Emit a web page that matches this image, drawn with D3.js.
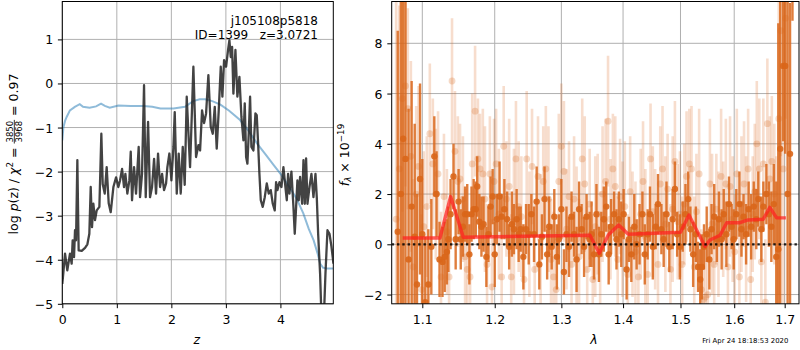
<!DOCTYPE html>
<html><head><meta charset="utf-8">
<script src="https://cdn.jsdelivr.net/npm/d3@7"></script>
<style>
body{margin:0;background:#fff}
svg{display:block;font-family:"DejaVu Sans",sans-serif}
</style></head><body>
<svg id="c" width="800" height="350"></svg>
<script>
// ---------------- data: left panel ----------------
const pzZ = [0.00,0.019,0.050,0.092,0.141,0.172,0.190,0.215,0.233,0.252,0.276,0.300,0.356,0.417,0.460,0.496,0.521,0.545,0.570,0.600,
0.631,0.680,0.716,0.741,0.778,0.814,0.851,0.888,0.937,0.986,1.028,1.059,1.096,1.132,1.157,1.193,1.230,1.255,1.279,1.316,
1.352,1.401,1.426,1.462,1.499,1.530,1.573,1.609,1.646,1.683,1.719,1.756,1.793,1.830,1.866,1.903,1.927,1.964,2.001,2.038,
2.062,2.099,2.135,2.172,2.209,2.245,2.282,2.319,2.343,2.380,2.404,2.453,2.496,2.527,2.563,2.600,2.637,2.679,2.722,2.759,
2.796,2.832,2.869,2.906,2.936,2.967,3.004,3.040,3.065,3.089,3.114,3.138,3.175,3.211,3.248,3.285,3.322,3.346,3.371,3.395,
3.419,3.444,3.468,3.505,3.542,3.566,3.591,3.615,3.640,3.676,3.713,3.750,3.786,3.823,3.860,3.896,3.921,3.945,3.982,4.019,
4.055,4.092,4.117,4.141,4.166,4.202,4.239,4.263,4.288,4.312,4.337,4.361,4.398,4.423,4.447,4.471,4.496,4.533,4.569,4.606,
4.643,4.667,4.692,4.728,4.753,4.789,4.826,4.863,4.900,4.936,4.973];
const logPz = [-4.55,-4.3,-3.86,-4.24,-3.86,-4.09,-3.56,-3.94,-3.33,-3.56,-1.74,-3.79,-3.8,-3.73,-3.65,-3.41,-2.35,-3.26,-2.73,-3.1,
-2.88,-2.8,-1.14,-2.28,-2.5,-1.9,-2.72,-2.92,-2.35,-2.13,-2.35,-2.2,-1.94,-2.35,-2.05,-2.5,-2.2,-1.55,-2.65,-1.9,
-2.5,-1.44,-2.58,-2.05,-0.04,-2.58,-0.87,-2.58,-2.35,-1.71,-2.5,-1.59,-2.35,-2.05,-2.42,-2.27,-1.9,-1.59,-2.2,-1.44,
-0.65,-2.5,-1.59,-2.5,-1.44,-2.3,-0.3,-1.29,-1.9,-0.53,0.38,-1.67,-1.4,-1.52,-0.61,-0.9,-0.68,0.19,-0.98,-1.14,
-0.53,-1.48,-0.61,0.38,-0.3,0.53,0.38,0.76,0.98,0.6,0.83,-0.23,0.76,-0.3,0.15,-0.76,-1.29,-0.45,-1.67,-1.82,
-1.14,-0.3,-1.44,-1.52,-0.68,-0.72,-1.36,-2.05,-2.65,-2.8,-2.58,-2.27,-2.5,-2.42,-2.73,-2.88,-2.24,-2.42,-2.24,-2.35,
-1.9,-2.35,-2.65,-2.05,-2.5,-2.0,-2.8,-3.41,-2.8,-2.2,-2.65,-2.12,-2.73,-1.74,-2.73,-1.7,-2.73,-2.35,-2.05,-2.58,
-2.05,-2.58,-3.41,-4.32,-5.3,-5.6,-4.32,-3.33,-3.41,-3.7,-4.09];
const chiZ = [0.00,0.02,0.05,0.08,0.14,0.23,0.32,0.38,0.50,0.62,0.71,0.78,0.87,1.03,1.25,1.49,1.65,1.80,2.04,2.25,
2.40,2.52,2.62,2.75,2.90,3.06,3.26,3.42,3.57,3.72,3.87,4.02,4.18,4.30,4.42,4.52,4.61,4.68,4.73,4.78,4.85,4.97];
const chiVal = [-1.29,-1.0,-0.85,-0.76,-0.61,-0.53,-0.47,-0.53,-0.55,-0.52,-0.46,-0.51,-0.55,-0.5,-0.51,-0.51,-0.53,-0.57,-0.57,-0.53,
-0.40,-0.36,-0.36,-0.40,-0.48,-0.62,-0.83,-1.08,-1.36,-1.6,-1.84,-2.08,-2.38,-2.62,-2.95,-3.3,-3.56,-3.85,-4.09,-4.18,-4.2,-4.2];
const leftXTicks = [0,1,2,3,4];
const leftYTicks = [-5,-4,-3,-2,-1,0,1];
const titleLine1 = "j105108p5818";
const titleLine2 = "ID=1399   z=3.0721";

// ---------------- data: right panel ----------------
const darkWave = [1.068,1.072,1.075,1.078,1.082,1.086,1.090,1.093,1.097,1.100,
1.104,1.108,1.112,1.116,1.119,1.123,1.127,1.130,1.133,1.135,
1.138,1.142,1.145,1.149,1.152,1.155,1.158,1.161,1.164,1.167,
1.170,1.173,1.175,1.178,1.181,1.184,1.188,1.191,1.194,1.197,
1.200,1.203,1.207,1.210,1.214,1.218,1.221,1.225,1.228,1.232,
1.235,1.238,1.242,1.246,1.250,1.254,1.258,1.262,1.266,1.270,
1.274,1.278,1.281,1.285,1.289,1.293,1.296,1.300,1.304,1.308,
1.312,1.316,1.320,1.324,1.328,1.332,1.336,1.340,1.345,1.348,
1.352,1.356,1.360,1.364,1.368,1.372,1.376,1.380,1.385,1.389,
1.393,1.397,1.401,1.406,1.410,1.414,1.419,1.423,1.428,1.433,
1.437,1.442,1.446,1.451,1.456,1.460,1.466,1.470,1.475,1.480,
1.486,1.490,1.494,1.499,1.504,1.509,1.514,1.518,1.523,1.528,
1.532,1.536,1.539,1.543,1.548,1.553,1.557,1.562,1.567,1.571,
1.576,1.580,1.585,1.590,1.595,1.599,1.604,1.610,1.614,1.618,
1.623,1.628,1.633,1.638,1.643,1.647,1.653,1.657,1.663,1.668,
1.673,1.678,1.683,1.687,1.691,1.697,1.701,1.706,1.711,1.716];
const darkFlux = [0.5,2.0,4.2,3.4,-0.6,1.5,0.3,-1.6,2.6,0.4,
-2.3,-1.6,-0.1,3.5,2.0,-0.6,-0.7,-0.5,-0.3,0.2,
1.2,2.7,0.2,1.7,0.2,0.7,1.2,1.2,-0.4,1.2,
1.4,1.4,2.3,0.9,0.7,0.8,-0.5,0.4,1.5,1.9,
-0.4,1.0,1.9,1.1,1.4,1.0,-0.1,0.8,0.6,1.0,
0.4,0.6,-0.5,0.6,0.4,1.2,0.4,1.7,-0.8,0.3,
1.8,-0.4,0.7,-0.1,1.1,-0.5,0.2,1.4,-1.1,0.4,
-0.1,1.1,0.4,-0.6,1.4,0.6,-0.1,1.1,0.2,0.4,
-0.4,1.2,-0.4,0.4,1.0,1.5,-0.4,0.7,1.2,0.2,
1.0,0.4,1.2,-1.0,0.2,-0.4,0.7,0.0,0.4,1.2,
-0.4,0.4,1.2,-0.1,0.7,1.6,0.6,0.2,1.2,-0.1,
1.0,2.2,0.4,-0.1,0.7,1.2,1.8,0.6,-0.4,0.4,
-0.9,-1.4,-0.9,-0.1,0.4,-0.6,0.6,1.1,0.2,1.0,
0.2,1.2,0.4,1.6,0.7,0.2,1.2,1.6,0.6,1.1,
0.4,1.4,0.7,1.5,1.0,1.8,0.6,1.5,2.0,1.2,
0.7,1.6,-0.5,-0.2,3.8,7.1,7.1,2.0,3.6,11.5];
const darkErr = [8.0,8.0,7.0,6.5,6.0,5.0,4.5,3.6,3.8,3.0,
2.6,2.2,1.9,1.6,1.7,1.5,1.4,1.4,1.3,1.3,
1.4,1.3,1.2,1.3,1.2,1.2,1.1,1.2,1.2,1.1,
1.2,1.1,1.2,1.1,1.2,1.1,1.2,1.1,1.2,1.1,
1.3,1.0,1.4,0.9,1.2,1.1,0.9,1.3,1.0,1.2,
1.1,0.9,1.3,1.0,1.2,0.8,1.1,1.4,1.0,0.9,
1.3,1.0,1.2,0.9,1.1,1.3,1.0,1.2,0.9,1.1,
1.2,1.0,0.9,1.3,1.1,1.0,1.2,0.9,1.1,1.3,
1.0,1.2,1.1,0.9,1.3,1.0,1.2,1.1,0.9,1.2,
1.1,1.3,1.0,1.2,0.9,1.1,1.3,1.0,1.2,0.9,
1.2,1.0,1.1,1.3,0.9,1.2,1.0,1.1,1.3,1.0,
1.2,1.1,0.9,1.3,1.0,1.2,1.1,0.9,1.3,1.1,
1.0,1.2,1.3,0.9,1.1,1.2,1.0,1.3,0.9,1.1,
1.2,1.0,1.3,1.1,0.9,1.2,1.0,1.3,1.1,0.9,
1.2,1.1,1.3,1.0,1.2,1.1,1.3,1.0,1.2,1.3,
1.4,1.6,3.0,9.0,8.0,3.0,3.5,9.0,6.0,2.6];

const lightWave = [1.066,1.070,1.074,1.078,1.081,1.085,1.088,1.092,1.095,1.099,
1.102,1.106,1.110,1.114,1.118,1.121,1.125,1.129,1.133,1.136,
1.140,1.144,1.148,1.151,1.155,1.158,1.161,1.165,1.168,1.172,
1.176,1.179,1.183,1.186,1.189,1.193,1.196,1.199,1.202,1.206,
1.210,1.213,1.217,1.221,1.224,1.228,1.231,1.235,1.239,1.243,
1.247,1.251,1.255,1.259,1.264,1.268,1.272,1.276,1.280,1.284,
1.288,1.292,1.296,1.300,1.304,1.308,1.312,1.316,1.320,1.324,
1.328,1.333,1.337,1.341,1.345,1.350,1.354,1.358,1.362,1.366,
1.371,1.375,1.379,1.383,1.387,1.391,1.395,1.399,1.403,1.408,
1.412,1.416,1.421,1.426,1.430,1.434,1.438,1.442,1.447,1.451,
1.455,1.460,1.464,1.468,1.473,1.477,1.482,1.486,1.490,1.495,
1.499,1.503,1.507,1.511,1.516,1.520,1.525,1.529,1.534,1.538,
1.542,1.546,1.550,1.554,1.558,1.562,1.566,1.570,1.575,1.579,
1.584,1.588,1.592,1.597,1.601,1.605,1.610,1.614,1.619,1.623,
1.627,1.632,1.636,1.640,1.644,1.649,1.653,1.657,1.661,1.665,
1.670,1.674,1.679,1.683,1.688,1.692,1.697,1.702];
const lightFlux = [1.0,3.0,5.8,6.3,5.4,3.5,-0.9,2.0,3.1,-1.8,
0.7,1.5,4.4,3.2,2.0,2.8,-1.3,1.9,0.5,-1.3,
6.5,3.7,2.5,2.6,1.8,-0.5,-1.0,-1.3,3.2,5.3,
3.4,3.0,2.8,1.8,-0.8,2.8,-1.7,2.5,3.2,1.2,
-1.3,3.9,1.8,2.3,-1.3,0.9,3.4,1.5,1.1,-1.4,
3.4,0.4,3.1,-1.0,2.7,0.2,2.5,3.0,1.8,-0.6,
-1.3,-1.8,2.5,3.9,2.9,0.6,1.9,-0.8,1.8,0.2,
-0.5,3.4,2.4,-1.0,1.6,-1.4,0.7,1.2,-0.2,2.0,
2.5,4.9,1.0,3.0,2.3,-0.6,1.9,0.6,1.5,-1.2,
2.1,0.4,-0.3,-1.3,1.2,2.5,0.3,-1.2,3.4,1.3,
0.6,-0.8,2.4,3.0,0.8,2.2,-1.0,1.4,3.3,0.9,
1.2,-0.8,1.6,2.7,3.2,3.0,-0.9,1.3,2.8,-1.8,
-2.2,-2.1,-2.0,2.4,0.8,-0.8,1.4,0.4,2.7,1.0,
2.4,-0.9,2.3,1.0,-0.3,2.8,-1.3,1.6,2.4,0.6,
3.0,-1.4,1.2,2.1,4.0,3.0,-0.7,3.2,-2.3,4.8,
2.6,3.3,2.0,-0.5,5.0,8.5,3.0,9.0];
const lightErr = [9.0,6.5,4.5,4.0,4.0,3.8,3.5,3.5,3.2,3.0,
3.0,2.8,2.8,2.6,2.6,2.5,2.6,2.5,2.5,2.6,
2.5,2.4,2.6,2.2,2.5,2.7,2.3,2.5,2.8,2.6,
2.4,2.2,2.6,2.9,2.4,2.3,2.7,2.5,2.2,2.6,
2.8,2.4,2.3,2.7,2.5,2.9,2.3,2.6,2.4,2.2,
2.7,2.5,2.3,2.8,2.4,2.6,2.2,2.5,2.9,2.4,
2.6,2.3,2.7,2.5,2.8,2.4,2.2,2.6,2.5,2.9,
2.3,2.4,2.7,2.5,2.2,2.6,2.8,2.4,2.3,2.7,
2.5,2.6,2.4,2.2,2.8,2.5,2.3,2.7,2.6,2.4,
2.2,2.5,2.8,2.3,2.6,2.4,2.7,2.5,2.2,2.6,
2.4,2.8,2.3,2.5,2.7,2.2,2.6,2.9,2.4,2.3,
2.5,2.7,2.4,2.6,2.2,2.5,2.8,2.3,2.6,2.4,
2.7,2.5,2.3,2.6,2.8,2.4,2.2,2.5,2.7,2.3,
2.6,2.4,2.8,2.5,2.3,2.6,2.4,2.7,2.5,2.9,
2.4,2.6,2.3,2.7,2.5,2.8,2.4,2.6,2.5,2.6,
2.5,2.6,2.8,4.0,7.0,5.0,9.0,4.0];
const modelWave = [1.0744,1.1236,1.138,1.1555,1.3454,1.3606,1.3754,1.3926,1.4088,1.500,1.5154,1.5448,1.554,1.573,1.5856,1.611,1.627,1.6568,1.670,1.6836,1.7025];
const modelFlux = [0.25,0.25,1.9,0.28,0.36,-0.36,0.37,0.77,0.4,0.48,1.17,-0.09,0.17,0.36,0.86,0.86,0.97,1.0,1.47,1.05,1.05];
const rightXTicks = [1.1,1.2,1.3,1.4,1.5,1.6,1.7];
const rightYTicks = [-2,0,2,4,6,8];
const stamp = "Fri Apr 24 18:18:53 2020";

// ---------------- drawing ----------------
const FS = 12.5;
const svg = d3.select("#c");
const TOP = 1.5, BOT = 303.8;
const L = {x0:62.3, x1:333.3};
const R = {x0:391.7, x1:799};

const xz = d3.scaleLinear().domain([0,4.97]).range([L.x0,L.x1]);
const yz = d3.scaleLinear().domain([-5,1.86]).range([BOT,TOP]);
const xl = d3.scaleLog().domain([1.0603,1.7295]).range([R.x0,R.x1]);
const yf = d3.scaleLinear().domain([-2.368,9.664]).range([BOT,TOP]);

const defs = svg.append("defs");
defs.append("clipPath").attr("id","cl").append("rect").attr("x",L.x0).attr("y",TOP).attr("width",L.x1-L.x0).attr("height",BOT-TOP);
defs.append("clipPath").attr("id","cr").append("rect").attr("x",R.x0).attr("y",TOP).attr("width",R.x1-R.x0).attr("height",BOT-TOP);

function grid(g, xs, ys, xt, yt, p){
  g.selectAll(null).data(xt).join("line")
    .attr("x1",d=>xs(d)).attr("x2",d=>xs(d)).attr("y1",TOP).attr("y2",BOT)
    .attr("stroke","#b0b0b0").attr("stroke-width",1);
  g.selectAll(null).data(yt).join("line")
    .attr("x1",p.x0).attr("x2",p.x1).attr("y1",d=>ys(d)).attr("y2",d=>ys(d))
    .attr("stroke","#b0b0b0").attr("stroke-width",1);
}
function axes(xs, ys, xt, yt, xfmt, yfmt){
  const gx = svg.append("g").attr("transform",`translate(0,${BOT})`)
    .call(d3.axisBottom(xs).tickValues(xt).tickFormat(xfmt).tickSize(4.4).tickPadding(6.6));
  const gy = svg.append("g").attr("transform",`translate(${xs.range()[0]},0)`)
    .call(d3.axisLeft(ys).tickValues(yt).tickFormat(yfmt).tickSize(4.4).tickPadding(4.8));
  [gx,gy].forEach(g=>{
    g.select(".domain").remove();
    g.selectAll("text").attr("font-size",FS).attr("font-family","DejaVu Sans").attr("fill","#000");
    g.selectAll("line").attr("stroke","#000").attr("stroke-width",1);
  });
  gy.selectAll("text").attr("dy","0.36em");
}

// ---- left panel
const gl = svg.append("g");
grid(gl, xz, yz, leftXTicks, leftYTicks, L);
const cl = gl.append("g").attr("clip-path","url(#cl)");
const lineZ = d3.line().x((d,i)=>xz(chiZ[i])).y(d=>yz(d));
cl.append("path").attr("d",lineZ(chiVal)).attr("fill","none")
  .attr("stroke","#1f77b4").attr("stroke-opacity",0.5).attr("stroke-width",2);
const lineP = d3.line().x((d,i)=>xz(pzZ[i])).y(d=>yz(d));
cl.append("path").attr("d",lineP(logPz)).attr("fill","none")
  .attr("stroke","#222").attr("stroke-opacity",0.85).attr("stroke-width",2.3).attr("stroke-linejoin","round");
axes(xz, yz, leftXTicks, leftYTicks, d3.format("d"), d3.format("d"));
svg.append("rect").attr("x",L.x0).attr("y",TOP).attr("width",L.x1-L.x0).attr("height",BOT-TOP)
  .attr("fill","none").attr("stroke","#000").attr("stroke-width",1);
svg.append("text").attr("x",318).attr("y",24.5).attr("text-anchor","end").attr("font-size",12).text(titleLine1);
svg.append("text").attr("x",318).attr("y",38.5).attr("text-anchor","end").attr("font-size",12)
  .style("white-space","pre").text(titleLine2);

// ---- right panel
const gr = svg.append("g");
grid(gr, xl, yf, rightXTicks, rightYTicks, R);
const cr = gr.append("g").attr("clip-path","url(#cr)");
const ORANGE = "#d9661a";
const lightIdx = d3.range(lightWave.length);
cr.append("g").selectAll("line").data(lightIdx).join("line")
  .attr("x1",i=>xl(lightWave[i])).attr("x2",i=>xl(lightWave[i]))
  .attr("y1",i=>yf(lightFlux[i]-lightErr[i])).attr("y2",i=>yf(lightFlux[i]+lightErr[i]))
  .attr("stroke",ORANGE).attr("stroke-opacity",0.22).attr("stroke-width",2.6);
cr.append("g").selectAll("circle").data(lightIdx).join("circle")
  .attr("cx",i=>xl(lightWave[i])).attr("cy",i=>yf(lightFlux[i])).attr("r",3.4)
  .attr("fill",ORANGE).attr("fill-opacity",0.25);
const darkIdx = d3.range(darkWave.length);
cr.append("g").selectAll("line").data(darkIdx).join("line")
  .attr("x1",i=>xl(darkWave[i])).attr("x2",i=>xl(darkWave[i]))
  .attr("y1",i=>yf(darkFlux[i]-darkErr[i])).attr("y2",i=>yf(darkFlux[i]+darkErr[i]))
  .attr("stroke",ORANGE).attr("stroke-opacity",0.85).attr("stroke-width",2.4);
cr.append("g").selectAll("circle").data(darkIdx).join("circle")
  .attr("cx",i=>xl(darkWave[i])).attr("cy",i=>yf(darkFlux[i])).attr("r",3.2)
  .attr("fill",ORANGE).attr("fill-opacity",0.9);
const lineM = d3.line().x((d,i)=>xl(modelWave[i])).y(d=>yf(d));
cr.append("path").attr("d",lineM(modelFlux)).attr("fill","none")
  .attr("stroke","#ff2020").attr("stroke-opacity",0.72).attr("stroke-width",3.4).attr("stroke-linejoin","round");
cr.append("line").attr("x1",R.x0).attr("x2",R.x1).attr("y1",yf(0)).attr("y2",yf(0))
  .attr("stroke","#000").attr("stroke-opacity",0.85).attr("stroke-width",2.2).attr("stroke-dasharray","2.4,2.9");
axes(xl, yf, rightXTicks, rightYTicks, d3.format(".1f"), d3.format("d"));
svg.append("rect").attr("x",R.x0).attr("y",TOP).attr("width",R.x1-R.x0).attr("height",BOT-TOP)
  .attr("fill","none").attr("stroke","#000").attr("stroke-width",1);

// ---- axis labels
svg.append("text").attr("x",196.7).attr("y",344.3).attr("text-anchor","middle")
  .attr("font-size",FS).attr("font-style","italic").text("z");
svg.append("text").attr("x",594).attr("y",344.3).attr("text-anchor","middle")
  .attr("font-size",FS).attr("font-style","italic").text("λ");
svg.append("text").attr("x",788.3).attr("y",343).attr("text-anchor","end")
  .attr("font-size",6.9).text(stamp);

function richLabel(tx, ty, parts){
  const outer = svg.append("g").attr("transform",`translate(${tx},${ty}) rotate(-90)`);
  const g = outer.append("g");
  let x = 0;
  parts.forEach(p=>{
    if (p.num !== undefined){
      const n = g.append("text").attr("font-size",p.size).attr("y",-4.6).text(p.num);
      const d = g.append("text").attr("font-size",p.size).attr("y",4.4).text(p.den);
      const wn = n.node().getComputedTextLength(), wd = d.node().getComputedTextLength();
      const w = Math.max(wn,wd) + 2;
      n.attr("x", x + (w-wn)/2); d.attr("x", x + (w-wd)/2);
      g.append("line").attr("x1",x).attr("x2",x+w).attr("y1",-3.2).attr("y2",-3.2)
        .attr("stroke","#000").attr("stroke-width",0.8);
      x += w;
    } else {
      const t = g.append("text").attr("x",x).attr("y",p.dy||0).attr("font-size",p.size||FS)
        .attr("font-style",p.it?"italic":null).style("white-space","pre").text(p.t);
      x += t.node().getComputedTextLength();
    }
  });
  g.attr("transform",`translate(${-x/2},0)`);
}
richLabel(17.5, 154, [
  {t:"log "},{t:"p",it:true},{t:"(z) / "},{t:"χ",it:true},{t:"2",size:8.75,dy:-5},{t:" = "},
  {num:"3850",den:"3968",size:8.5},{t:" = 0.97"}
]);
richLabel(348.5, 155, [
  {t:"f",it:true},{t:"λ",it:true,size:8.75,dy:2.6},{t:" × 10"},{t:"−19",size:8.75,dy:-5}
]);
</script>
</body></html>
